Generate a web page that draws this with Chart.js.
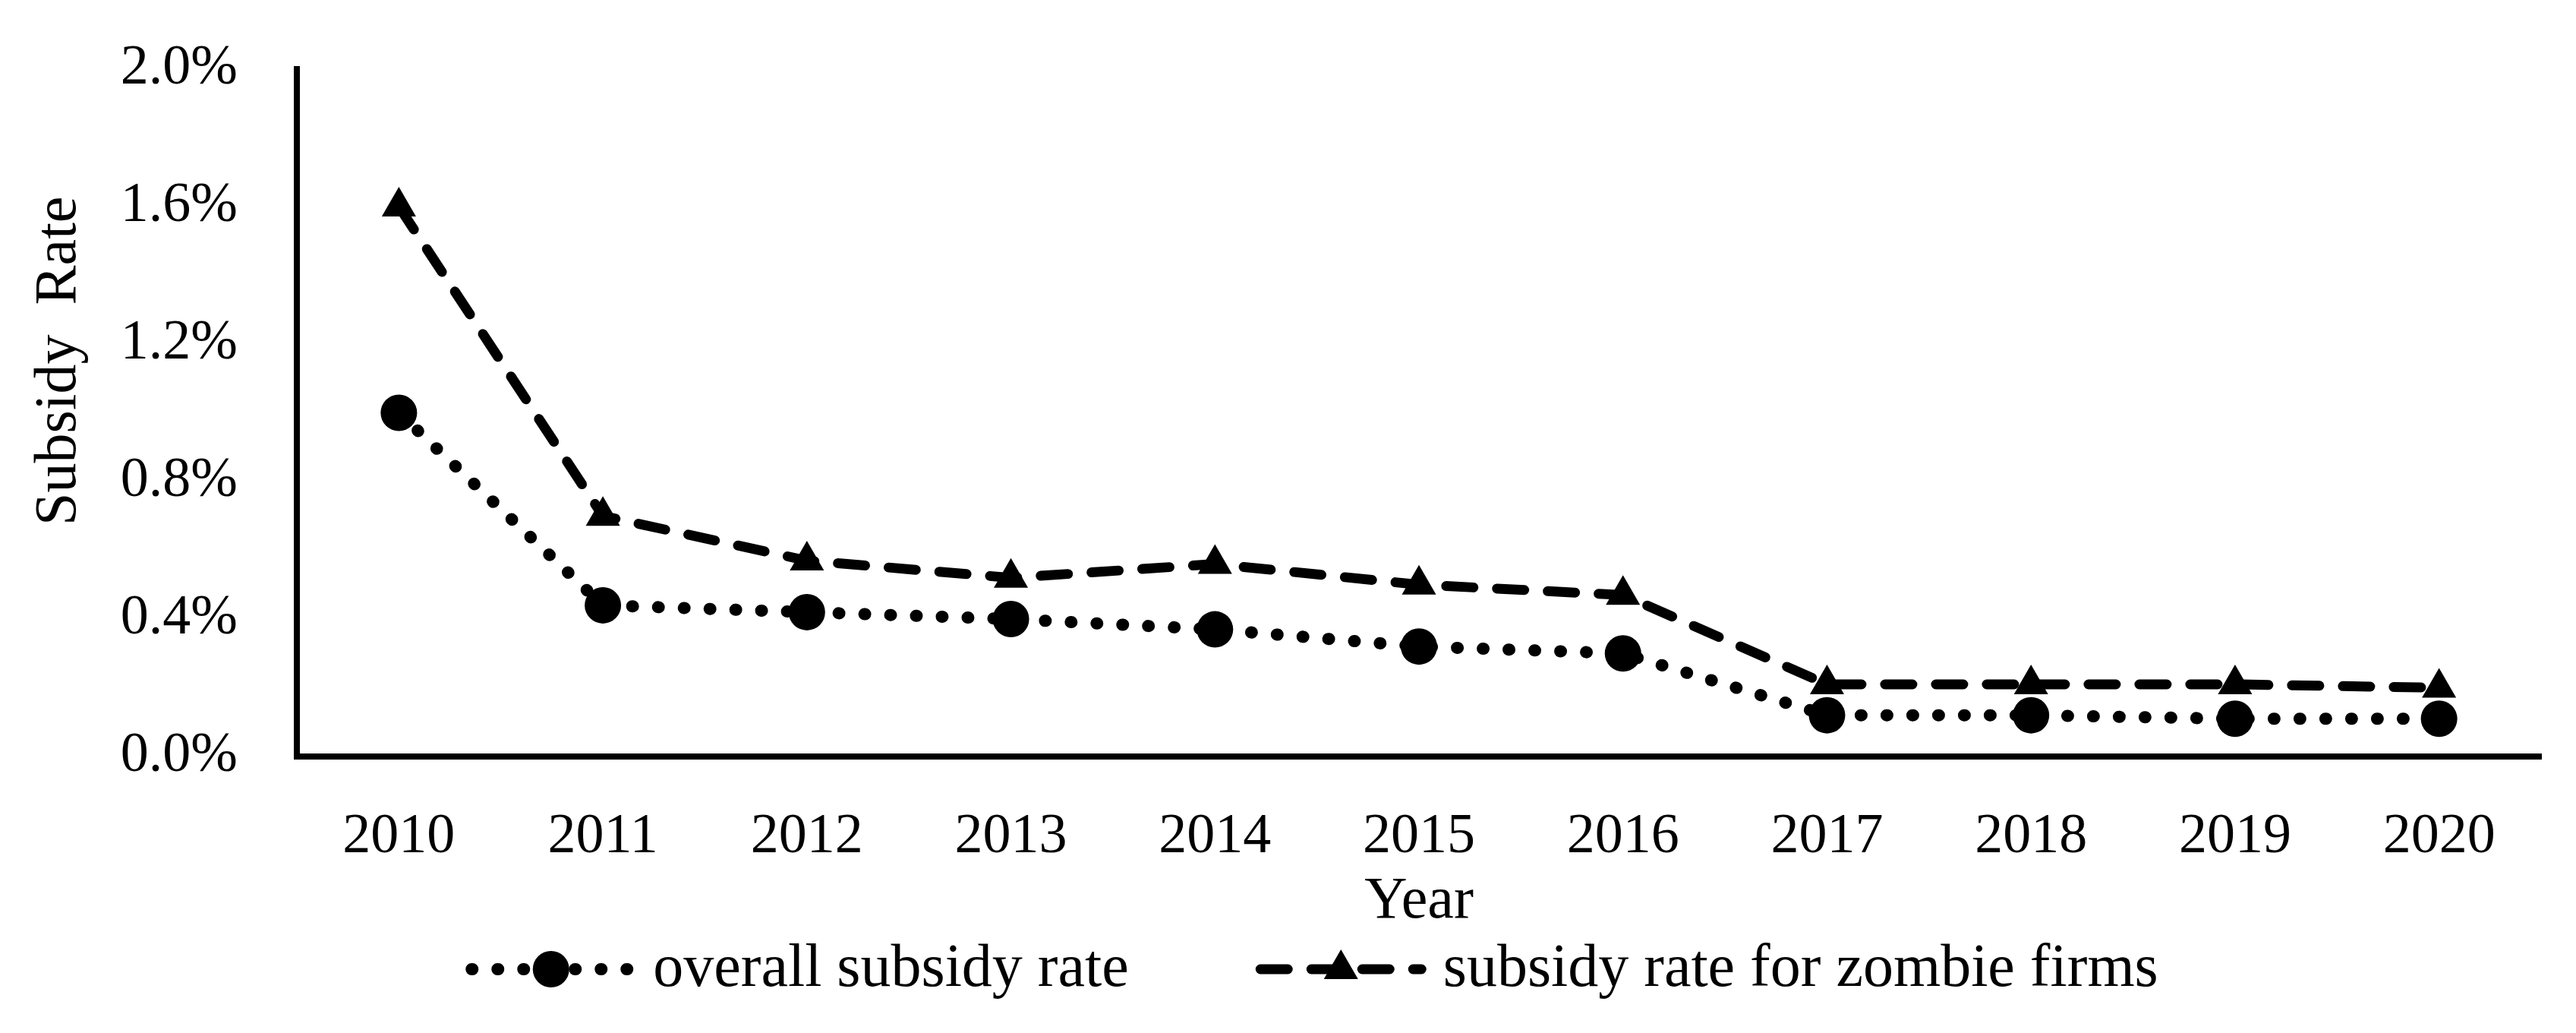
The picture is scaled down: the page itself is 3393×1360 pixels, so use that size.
<!DOCTYPE html>
<html>
<head>
<meta charset="utf-8">
<script src="https://cdn.jsdelivr.net/npm/chart.js@4.4.0/dist/chart.umd.min.js"></script>
<style>
html, body { margin: 0; padding: 0; background: #fff; }
#wrap { width: 3393px; height: 1360px; }
</style>
</head>
<body>
<div id="wrap"><canvas id="chart"></canvas></div>
<script>
// data (percent)
var years = ['2010', '2011', '2012', '2013', '2014', '2015', '2016', '2017', '2018', '2019', '2020'];
var overallRate = [1.00, 0.44, 0.42, 0.40, 0.37, 0.32, 0.30, 0.12, 0.12, 0.11, 0.11];
var zombieRate = [1.60, 0.70, 0.57, 0.52, 0.56, 0.50, 0.47, 0.21, 0.21, 0.21, 0.20];
var seriesNames = ['overall subsidy rate', 'subsidy rate for zombie firms'];
var yMin = 0, yMax = 2.0, yStep = 0.4;

var FONT = "'Liberation Serif', 'Times New Roman', serif";
var TICK_FS = 74;
var TITLE_FS = 78;
var LEGEND_FS = 80;

// legend drawn under the axis title: line sample with marker, then the name
var lineLegend = {
	id: 'lineLegend',
	afterDraw: function(chart){
		var ctx = chart.ctx;
		var sampleW = 225, textGap = 22, itemGap = 167;
		var lineY = 1276, baseY = 1298, centerX = 1728;
		ctx.save();
		ctx.font = LEGEND_FS + 'px ' + FONT;
		var widths = [];
		var total = 0;
		for(var i = 0; i < chart.data.datasets.length; i++){
			widths.push(ctx.measureText(chart.data.datasets[i].label).width);
			total += sampleW + textGap + widths[i];
			if(i > 0){
				total += itemGap;
			}
		}
		var x = centerX - total / 2;
		for(var i = 0; i < chart.data.datasets.length; i++){
			var ds = chart.data.datasets[i];
			var half = ds.borderWidth / 2;
			ctx.strokeStyle = ds.borderColor;
			ctx.lineWidth = ds.borderWidth;
			ctx.lineCap = ds.borderCapStyle;
			ctx.setLineDash(ds.borderDash);
			ctx.beginPath();
			ctx.moveTo(x + half, lineY);
			ctx.lineTo(x + sampleW - half, lineY);
			ctx.stroke();
			ctx.setLineDash([]);
			ctx.fillStyle = ds.pointBackgroundColor;
			Chart.helpers.drawPoint(ctx, {pointStyle: ds.pointStyle, radius: ds.pointRadius, borderWidth: 0, rotation: 0}, x + sampleW / 2, lineY);
			ctx.fillStyle = '#000';
			ctx.textAlign = 'left';
			ctx.textBaseline = 'alphabetic';
			ctx.fillText(ds.label, x + sampleW + textGap, baseY);
			x += sampleW + textGap + widths[i] + itemGap;
		}
		ctx.restore();
	}
};

var ctx = document.getElementById('chart').getContext('2d');
var myChart = new Chart(ctx, {
	type: 'line',
	data: {
		labels: years,
		datasets: [{
			label: seriesNames[0],
			data: overallRate,
			borderColor: '#000',
			borderWidth: 16,
			borderDash: [1, 33],
			borderCapStyle: 'round',
			pointStyle: 'circle',
			pointRadius: 24,
			pointBackgroundColor: '#000',
			pointBorderWidth: 0,
			fill: false,
			tension: 0
		}, {
			label: seriesNames[1],
			data: zombieRate,
			borderColor: '#000',
			borderWidth: 13,
			borderDash: [36, 31],
			borderCapStyle: 'round',
			pointStyle: 'triangle',
			pointRadius: 26,
			pointBackgroundColor: '#000',
			pointBorderWidth: 0,
			fill: false,
			tension: 0
		}]
	},
	options: {
		responsive: true,
		maintainAspectRatio: false,
		devicePixelRatio: 1,
		animation: false,
		layout: {padding: {left: 30, right: 46, top: 91, bottom: 126}},
		color: '#000',
		plugins: {
			tooltip: {enabled: false},
			legend: {display: false}
		},
		scales: {
			x: {
				offset: true,
				grid: {display: false, drawTicks: false},
				border: {display: true, color: '#000', width: 8},
				ticks: {font: {family: FONT, size: TICK_FS}, color: '#000', padding: 62, maxRotation: 0},
				title: {display: true, text: 'Year', font: {family: FONT, size: TITLE_FS}, color: '#000', padding: {top: 0, bottom: 0}},
				afterFit: function(scale){ scale.height = 238; }
			},
			y: {
				min: yMin,
				max: yMax,
				grid: {display: false, drawTicks: false},
				border: {display: true, color: '#000', width: 8},
				ticks: {
					stepSize: yStep,
					font: {family: FONT, size: TICK_FS},
					color: '#000',
					padding: 78,
					callback: function(v){ return v.toFixed(1) + '%'; }
				},
				title: {display: true, text: '       Subsidy  Rate', font: {family: FONT, size: TITLE_FS}, color: '#000', padding: {top: 2, bottom: 0}},
				afterFit: function(scale){
					scale.width = 361;
					scale.paddingTop = 0;
				}
			}
		}
	},
	plugins: [lineLegend]
});
</script>
</body>
</html>
